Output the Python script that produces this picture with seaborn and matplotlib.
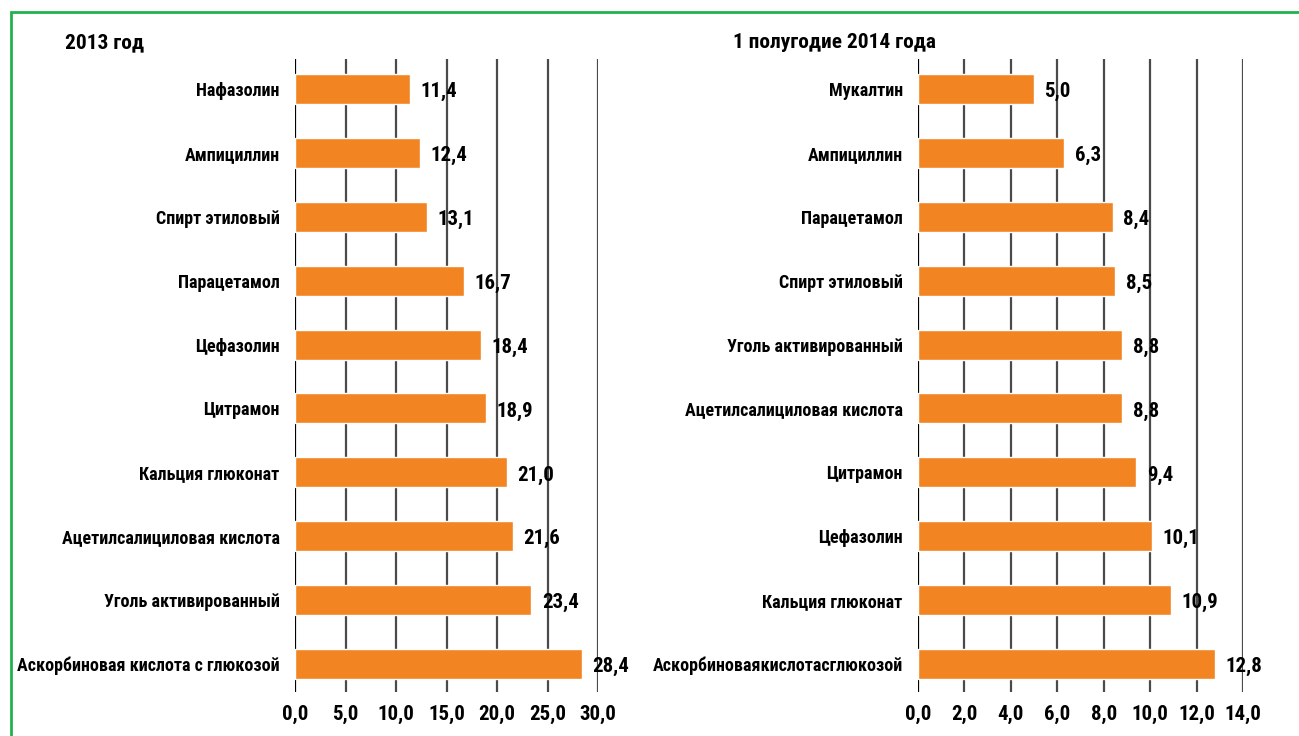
import matplotlib
matplotlib.use("Agg")
import matplotlib.pyplot as plt
from matplotlib import font_manager
from matplotlib.patches import Rectangle
import seaborn as sns
import pandas as pd

# 2013
drugs_2013 = ["Нафазолин", "Ампициллин", "Спирт этиловый", "Парацетамол", "Цефазолин",
              "Цитрамон", "Кальция глюконат", "Ацетилсалициловая кислота",
              "Уголь активированный", "Аскорбиновая кислота с глюкозой"]
values_2013 = [11.4, 12.4, 13.1, 16.7, 18.4, 18.9, 21.0, 21.6, 23.4, 28.4]
ticks_2013 = [0, 5, 10, 15, 20, 25, 30]

# first half of 2014
drugs_2014 = ["Мукалтин", "Ампициллин", "Парацетамол", "Спирт этиловый",
              "Уголь активированный", "Ацетилсалициловая кислота", "Цитрамон",
              "Цефазолин", "Кальция глюконат", "Аскорбиноваякислотасглюкозой"]
values_2014 = [5.0, 6.3, 8.4, 8.5, 8.8, 8.8, 9.4, 10.1, 10.9, 12.8]
ticks_2014 = [0, 2, 4, 6, 8, 10, 12, 14]

titles = ["2013 год", "1 полугодие 2014 года"]

sns.set_style("white")
installed = {f.name for f in font_manager.fontManager.ttflist}
preferred = ["Arial Narrow", "Liberation Sans Narrow", "Roboto Condensed", "PT Sans Narrow",
             "Fira Sans Condensed", "Liberation Sans", "DejaVu Sans"]
families = [f for f in preferred if f in installed]
plt.rcParams["font.family"] = families
plt.rcParams["font.weight"] = "bold"
plt.rcParams["text.color"] = "black"
plt.rcParams["xtick.color"] = "black"
plt.rcParams["ytick.color"] = "black"

BAR = "#F28522"
GRID = "#4a4a4a"

fig = plt.figure(figsize=(12.99, 7.36), dpi=100)
W, H = 1299, 736

# green frame
fig.patches.append(Rectangle((10.5 / W, -0.1), 1.2, 1 - 11.5 / H + 0.1,
                             transform=fig.transFigure, fill=False,
                             edgecolor="#22B24C", linewidth=2.0))

panels = [
    (drugs_2013, values_2013, ticks_2013, 295, 598, titles[0], 65),
    (drugs_2014, values_2014, ticks_2014, 918, 1243, titles[1], 733),
]
top, bottom = 59, 692

for names, vals, ticks, x0, x1, title, tx in panels:
    ax = fig.add_axes([x0 / W, 1 - bottom / H, (x1 - x0) / W, (bottom - top) / H])
    df = pd.DataFrame({"name": names, "value": vals})
    sns.barplot(data=df, x="value", y="name", orient="h", color=BAR,
                saturation=1, width=0.47, ax=ax)
    ax.set_xlim(ticks[0], ticks[-1])
    ax.set_ylim(len(names) - 0.56, -0.47)
    ax.set_xticks(ticks)
    ax.set_xticklabels([f"{t:.1f}".replace(".", ",") for t in ticks], fontsize=15,
                       fontweight="bold")
    ax.tick_params(axis="x", length=0, pad=9)
    ax.tick_params(axis="y", length=0, pad=11, labelsize=13)
    for lbl in ax.get_yticklabels():
        lbl.set_fontweight("bold")
    ax.set_xlabel("")
    ax.set_ylabel("")
    for s in ax.spines.values():
        s.set_visible(False)
    ax.set_axisbelow(True)
    for t in ticks:
        ax.axvline(t, color="black" if t == 0 else GRID, lw=1.6, zorder=0)
    for i, v in enumerate(vals):
        ax.annotate(f"{v:.1f}".replace(".", ","), (v, i), xytext=(7.5, -2),
                    textcoords="offset points", ha="left", va="center",
                    fontsize=15, fontweight="bold", color="black")
    fig.text(tx / W, 1 - 43 / H, title, ha="left", va="center",
             fontsize=15.4, fontweight="bold")

fig.savefig("out.png", dpi=100)
